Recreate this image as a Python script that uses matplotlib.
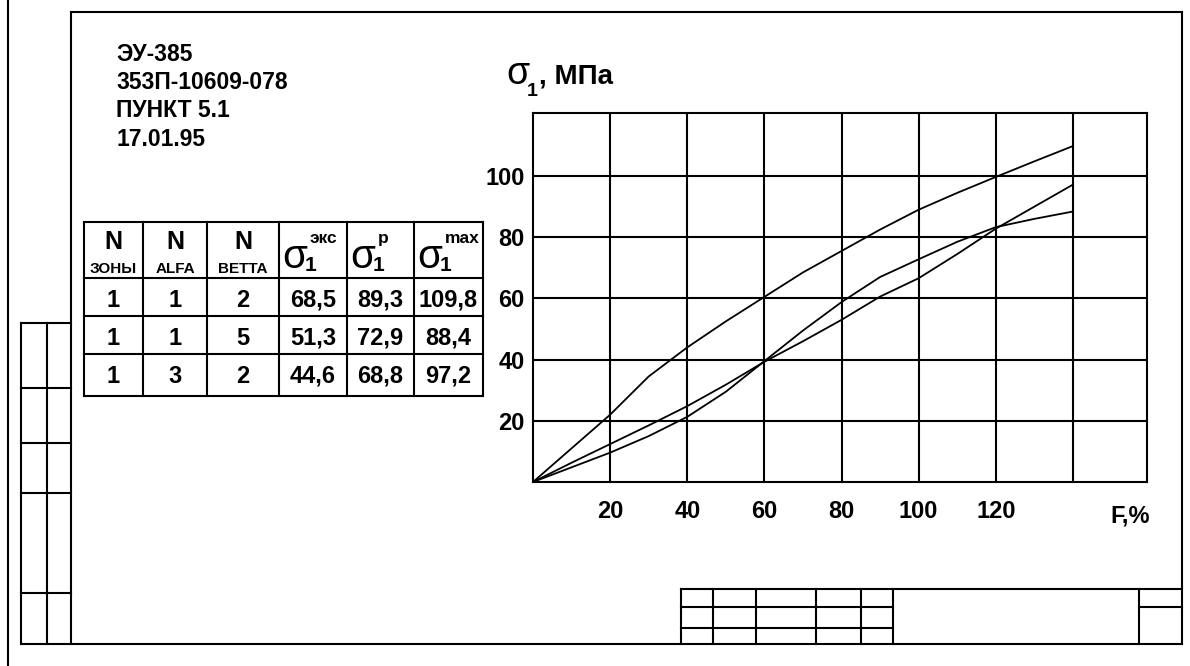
import matplotlib
matplotlib.use('Agg')
import matplotlib.pyplot as plt

plt.rcParams['font.family'] = ['Liberation Sans', 'DejaVu Sans']

# curves: sigma_1 (MPa) vs load F (%)
f_pct = [0, 10, 20, 30, 40, 50, 60, 70, 80, 90, 100, 110, 120, 130, 140]
sigma_row1 = [0, 11.0, 22.0, 34.5, 44.0, 52.5, 60.5, 68.5, 75.5, 82.5, 89.0, 94.5, 99.7, 104.8, 109.8]
sigma_row2 = [0, 4.8, 9.6, 15.0, 21.3, 29.5, 39.5, 49.5, 58.8, 67.0, 72.8, 78.5, 83.3, 86.0, 88.4]
sigma_row3 = [0, 6.3, 12.4, 18.5, 24.8, 31.8, 39.3, 46.0, 53.0, 60.6, 66.6, 74.5, 82.8, 90.0, 97.2]

# table
zone_n = [1, 1, 1]
alfa_n = [1, 1, 3]
betta_n = [2, 5, 2]
sigma_eks = [68.5, 51.3, 44.6]
sigma_p = [89.3, 72.9, 68.8]
sigma_max = [109.8, 88.4, 97.2]

header_lines = ['ЭУ-385', '353П-10609-078', 'ПУНКТ 5.1', '17.01.95']
y_ticks = [20, 40, 60, 80, 100]
x_grid = [20, 40, 60, 80, 100, 120, 140]
x_labels = ['20', '40', '60', '80', '100', '120', '']

W, H = 1190, 666
fig = plt.figure(figsize=(W / 100, H / 100), dpi=100)

# overlay in pixel coords for the drawing frame and table
ov = fig.add_axes([0, 0, 1, 1])
ov.set_xlim(0, W)
ov.set_ylim(H, 0)
ov.axis('off')

LW = 1.5


def hline(y, x0, x1, lw=LW):
    ov.plot([x0, x1], [y, y], color='black', lw=lw, solid_capstyle='projecting')


def vline(x, y0, y1, lw=LW):
    ov.plot([x, x], [y0, y1], color='black', lw=lw, solid_capstyle='projecting')


# outer frame
vline(8, 0, H)
hline(12, 71, 1182)
vline(71, 12, 644)
vline(1182, 12, 644)
hline(644, 21, 1182)

# left stub
vline(21, 323, 644)
vline(47, 323, 644)
for y in [323, 388, 443, 493, 593]:
    hline(y, 21, 71)

# bottom title block
hline(589, 681, 1182)
for x in [681, 713, 756, 816, 861, 893]:
    vline(x, 589, 644)
for y in [607, 628]:
    hline(y, 681, 893)
vline(1139, 589, 644)
hline(607, 1139, 1182)

# header text
for i, s in enumerate(header_lines):
    ov.text(116, [61, 89, 117, 146][i], s, fontsize=16.5, fontweight='bold',
            ha='left', va='baseline')

# table grid
col_x = [84, 143, 207, 279, 347, 414, 483]
row_y = [222, 278, 316, 354, 396]
for x in col_x:
    vline(x, row_y[0], row_y[-1])
for y in row_y:
    hline(y, col_x[0], col_x[-1])

# table header
for j, sub in enumerate(['ЗОНЫ', 'ALFA', 'BETTA']):
    cx = (col_x[j] + col_x[j + 1]) / 2
    ov.text(cx, 249, 'N', fontsize=18, fontweight='bold', ha='center', va='baseline')
    ov.text(cx, 273, sub, fontsize=11, fontweight='bold', ha='center', va='baseline')

for j, sup in enumerate(['экс', 'p', 'max']):
    x0 = col_x[3 + j] + 3
    ov.text(x0, 268, 'σ', fontsize=29, ha='left', va='baseline')
    ov.text(x0 + 23, 271, '1', fontsize=15, fontweight='bold', ha='left', va='baseline')
    ov.text(x0 + 28, 243, sup, fontsize=12.5, fontweight='bold', ha='left', va='baseline')

# table body
baselines = [307, 345, 383]
for i in range(3):
    vals = [str(zone_n[i]), str(alfa_n[i]), str(betta_n[i]),
            f'{sigma_eks[i]:.1f}'.replace('.', ','),
            f'{sigma_p[i]:.1f}'.replace('.', ','),
            f'{sigma_max[i]:.1f}'.replace('.', ',')]
    for j, v in enumerate(vals):
        cx = (col_x[j] + col_x[j + 1]) / 2
        ov.text(cx, baselines[i], v, fontsize=17, fontweight='bold',
                ha='center', va='baseline')

# chart
left, right, top, bottom = 533, 1147, 113, 482
ax = fig.add_axes([left / W, 1 - bottom / H, (right - left) / W, (bottom - top) / H])
for s in ax.spines.values():
    s.set_linewidth(LW)
ax.plot(f_pct, sigma_row1, color='black', lw=1.3)
ax.plot(f_pct, sigma_row2, color='black', lw=1.3)
ax.plot(f_pct, sigma_row3, color='black', lw=1.3)
ax.set_xlim(0, 159.2)
ax.set_ylim(0, 120.6)
ax.set_xticks(x_grid)
ax.set_xticklabels(x_labels)
ax.set_yticks(y_ticks)
ax.grid(True, color='black', lw=LW)
ax.set_axisbelow(True)
ax.tick_params(axis='both', length=0, labelsize=17)
ax.tick_params(axis='x', pad=13)
ax.tick_params(axis='y', pad=6)
for lab in ax.get_xticklabels() + ax.get_yticklabels():
    lab.set_fontweight('bold')

ov.text(1130, 522, 'F,%', fontsize=17, fontweight='bold', ha='center', va='baseline')

# axis title
ov.text(506, 84, 'σ', fontsize=27, ha='left', va='baseline')
ov.text(527, 96, '1', fontsize=14, fontweight='bold', ha='left', va='baseline')
ov.text(539, 84, ', МПа', fontsize=20, fontweight='bold', ha='left', va='baseline')

fig.savefig('out.png', dpi=100, facecolor='white')
